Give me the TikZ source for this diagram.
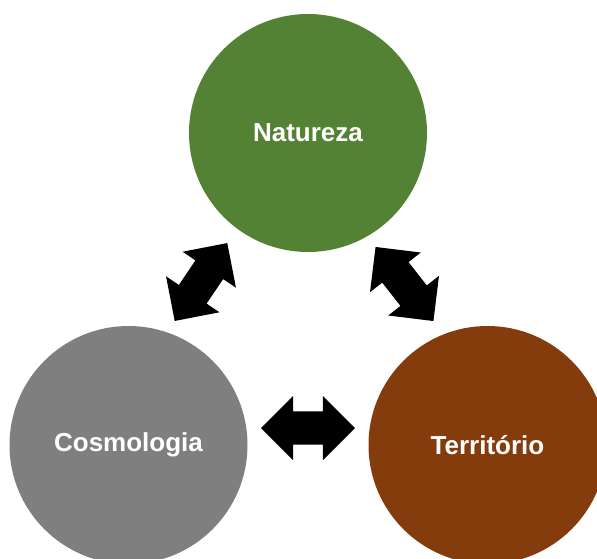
\documentclass[tikz,border=0pt]{standalone}
\usepackage{fontspec}
\setmainfont{Liberation Sans}
\usetikzlibrary{shapes.arrows}
\definecolor{natgreen}{HTML}{548235}
\definecolor{cosgray}{HTML}{7F7F7F}
\definecolor{terbrown}{HTML}{843C0C}
\tikzset{
  circ/.style={circle, minimum size=238pt, inner sep=0pt, text=white,
    font=\fontsize{26}{30}\selectfont\bfseries},
  dblarrow/.style={double arrow, fill=black, draw=none, inner xsep=0pt,
    inner ysep=16.5pt, double arrow head extend=15.5pt, minimum height=94pt}
}
\begin{document}
\begin{tikzpicture}[x=1pt,y=-1pt]
    \useasboundingbox (0,0) rectangle (597,558);
    \clip (0,0) rectangle (597,558);

    % Circles
    \node[circ, fill=natgreen] (nat) at (308,133) {Natureza};
    \node[circ, fill=cosgray] (cos) at (128.5,445) {Cosmologia};
    \node[circ, fill=terbrown] (ter) at (487.5,445) {Território};

    % Arrows
    \node[dblarrow, rotate=56] (natcos) at (201,282) {};
    \node[dblarrow, rotate=-52] (natter) at (404.5,284) {};
    \node[dblarrow] (coster) at (308,428) {};
\end{tikzpicture}
\end{document}
